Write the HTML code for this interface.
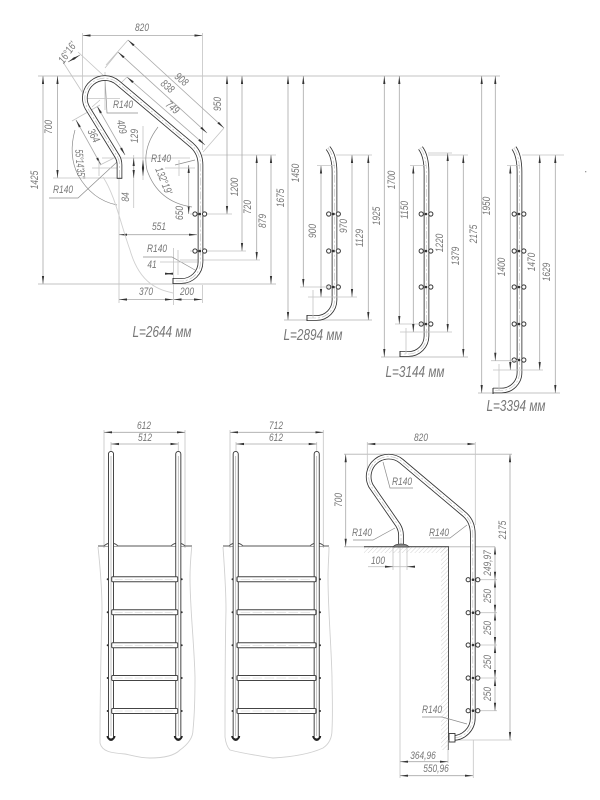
<!DOCTYPE html>
<html><head><meta charset="utf-8">
<style>
html,body{margin:0;padding:0;background:#fff}
svg{display:block}
text{font-family:"Liberation Sans","DejaVu Sans",sans-serif;font-style:italic;font-size:11px;fill:#777;text-anchor:middle;dominant-baseline:central}
text.L{font-size:15.500px;fill:#777}
.e{stroke:#c4c4c4;stroke-width:.8;fill:none}
.h{stroke:#cfcfcf;stroke-width:1.3;fill:none}
.d{stroke:#a8a8a8;stroke-width:.8;fill:none;marker-start:url(#a);marker-end:url(#a)}
.l{stroke:#8c8c8c;stroke-width:.7;fill:none}
.w{stroke:#d0d0d0;stroke-width:.9;fill:none}
.t1{stroke:#333;stroke-width:5.600;fill:none}
.t2{stroke:#fff;stroke-width:3.900;fill:none}
.t3{stroke:#bbb;stroke-width:.6;fill:none;stroke-dasharray:8 2 2 2}
.b{stroke:#333;stroke-width:1;fill:#fff}
</style></head><body>
<svg width="600" height="800" viewBox="0 0 600 800" xmlns="http://www.w3.org/2000/svg">
<defs>
<marker id="a" markerUnits="userSpaceOnUse" markerWidth="9" markerHeight="4" refX="8" refY="2" orient="auto-start-reverse"><path d="M0 .9L8 2L0 3.100z" fill="#333"/></marker>
<pattern id="hp" patternUnits="userSpaceOnUse" width="3" height="3" patternTransform="rotate(45)"><path d="M0 0V3" stroke="#c8c8c8" stroke-width=".8"/></pattern>
<path id="r1" d="M119.500 178L119.500 165Q119.500 160 117 156L87.500 108A20 20 0 0 1 118 83L192 145.400Q200.500 153 200.500 165L200.500 262A19 19 0 0 1 181.500 281L173 281"/>
<path id="r2" d="M328 148Q334.500 156 334.500 172L334.500 300A18 18 0 0 1 316.500 318L307 318"/>
<path id="r3" d="M420.500 148Q426.500 156 426.500 172L426.500 336A18 18 0 0 1 408.500 354L400 354"/>
<path id="r4" d="M514 148Q519.500 156 519.500 172L519.500 372.500A18 18 0 0 1 501.500 390.500L493 390.500"/>
<path id="r5" d="M401 546L401 535Q401 530 398 525L371 486A20 20 0 0 1 401.400 461.200L465 514.800Q472.800 522 472.800 534L472.800 718A20 20 0 0 1 452.800 738L450 738"/>
<g id="bt"><circle class="b" cx="-4.800" cy="0" r="2.100"/><circle class="b" cx="4.800" cy="0" r="2.100"/><circle cx="0" cy="0" r="1.300" fill="#333"/></g>
<g id="stp"><rect x="0" y="-2.500" width="66" height="5" rx="1" fill="#fff" stroke="#444" stroke-width="1"/><path d="M3 0H63" stroke="#ccc" stroke-width=".5" stroke-dasharray="8 2"/></g>
<g id="vr"><path d="M0 0V284" stroke="#333" stroke-width="6" stroke-linecap="round"/><path d="M0 0V284" stroke="#fff" stroke-width="4.200" stroke-linecap="round"/><path d="M0 2V282" stroke="#aaa" stroke-width=".7"/><path d="M-3.500 282a3.500 3.500 0 0 0 7 0" stroke="#222" stroke-width="2" fill="none"/></g>
</defs>

<!-- top line -->
<path class="h" d="M38 76H500M38 284H276M284 320H372M381 357H468M478 393H560M344 454.300H512M344 546.700H495"/>

<!-- rail 1 dims -->
<path class="d" d="M82.500 35.500H202.500"/>
<path class="e" d="M82.500 33V95M202.500 33V150M53 178H119M102 158H190M202 155H276M190 214H232M190 251H246M180 260H260M119 160V303M173.500 248V305M202.500 285V303M143 126V180M133.700 155V208"/>
<path class="d" d="M43 76V284"/><path class="d" d="M57.500 76V178"/>
<path class="d" d="M227 76V214"/><path class="d" d="M242 76V251"/>
<path class="d" d="M256.700 155V260"/><path class="d" d="M271 155V284"/>
<path class="d" d="M288 76V320"/>
<path class="d" d="M188.700 165V214"/>
<path class="d" d="M119 234.700H197"/>
<path class="d" d="M119 299.500H173"/><path class="d" d="M173.500 299.500H202"/>
<path class="d" d="M143 160V176"/><path class="d" d="M133.700 158V178"/>
<path class="d" d="M165 273.700H173"/>
<path class="d" d="M128 40L224 128"/><path class="d" d="M118 52L207 133"/><path class="d" d="M127 77L205 145"/>
<path class="e" d="M128 40L106 65M224 128L203 152M118 52L105 68M127 77L119 85"/>
<path class="e" d="M63 62L84 95M78 52L104 76"/>
<path class="d" d="M68 62L80 55"/>
<path class="d" d="M76 120L101 165"/><path class="d" d="M97 106L125 155"/>
<path class="e" d="M72 121L100 105M100 165L120 155M92 107L100 100"/>
<path class="l" d="M158 127Q142 148 147 170Q158 202 192 207"/>
<path class="l" d="M75 130Q68 155 78 175Q92 200 117 205"/>
<path class="w" d="M103 177C115 195 120 222 130 250C140 285 160 290 173 293"/>
<path class="l" d="M105 78L107 113H138M49 198H78L117 162M175 165L195 160M143 257H172L195 270"/>
<path class="e" d="M82 98.500H120M105 72V110M92 168H120M99 160V176M165 168H195M179 160V176M160 262H200M178 250V275"/>

<!-- rails -->
<use href="#r1" class="t1"/><use href="#r1" class="t2"/><use href="#r1" class="t3"/>
<path d="M116.700 178.300H122.300" stroke="#333" stroke-width="1"/>
<path d="M173 278V284" stroke="#333" stroke-width="1"/>
<use href="#bt" x="199.800" y="214"/><use href="#bt" x="199.800" y="251"/>

<use href="#r2" class="t1"/><use href="#r2" class="t2"/><use href="#r2" class="t3"/>
<path d="M307 315V321" stroke="#333" stroke-width="1"/>
<use href="#bt" x="333.500" y="214"/><use href="#bt" x="333.500" y="251"/><use href="#bt" x="333.500" y="287"/>

<use href="#r3" class="t1"/><use href="#r3" class="t2"/><use href="#r3" class="t3"/>
<path d="M400 351V357" stroke="#333" stroke-width="1"/>
<use href="#bt" x="426" y="214"/><use href="#bt" x="426" y="251"/><use href="#bt" x="426" y="287"/><use href="#bt" x="426" y="324"/>

<use href="#r4" class="t1"/><use href="#r4" class="t2"/><use href="#r4" class="t3"/>
<path d="M493 388V394" stroke="#333" stroke-width="1"/>
<use href="#bt" x="519" y="214"/><use href="#bt" x="519" y="251"/><use href="#bt" x="519" y="287"/><use href="#bt" x="519" y="324"/><use href="#bt" x="519" y="360"/>

<!-- rail 2-4 dims -->
<path class="e" d="M300 287H330M317 165.600H335M308 297H357M336 155H372M313 290V318M308 297H325"/>
<path class="d" d="M303.300 76V287"/><path class="d" d="M321 165.600V297"/><path class="d" d="M352 155V297"/><path class="d" d="M368.300 155V320"/>
<path class="e" d="M395 324H422M410 165.600H426M400 332H452M428 153H452M428 155H468M406 328V354"/>
<path class="d" d="M384.300 76V357"/><path class="d" d="M399.300 76V324"/><path class="d" d="M413.300 165.600V332"/><path class="d" d="M447.700 153V332"/><path class="d" d="M463.300 155V357"/>
<path class="e" d="M491 360.700H518M507 165.600H520M493 370H543M522 155H564M499 364V390"/>
<path class="d" d="M481.700 76V393"/><path class="d" d="M495.300 76V360.700"/><path class="d" d="M510.300 165.600V370"/><path class="d" d="M539.700 155V370"/><path class="d" d="M555.300 155V393"/>
<rect x="585" y="171" width="1.300" height="1.300" fill="#999"/>

<!-- ladders -->
<path class="w" d="M98 547C101 575 102 590 102 610C101 650 100 690 100 743C102 752 112 753 125 754C135 756 140 758 150 758C165 758 175 755 180 750C187 745 193 738 193 730C195 710 195 690 195 677C194 640 190 610 190 577C190 565 191 555 191.700 547"/>
<path class="w" d="M223 547C225 575 226 590 226 610C225 650 225 690 225 737C226 745 228 748 230 750C245 754 255 755 273 758C290 757 310 754 323 748C329 744 332 738 332 730C333 710 332 690 332 677C331 640 328 610 328 577C328 565 329 555 329 547"/>
<path class="e" d="M104 430V548M185 430V548M111 442V454M178.300 442V454M230 430V548M323.300 430V548M236 442V454M316.700 442V454"/>
<path class="d" d="M104 432.300H185"/><path class="d" d="M111 444H178.300"/>
<path class="d" d="M230 432.300H323.300"/><path class="d" d="M236 444H316.700"/>
<path d="M98 546H192M223 546H329" stroke="#555" stroke-width="1" fill="none"/>
<path d="M104 546q3-3 7-3q4 0 7 3M171 546q3-3 7-3q4 0 7 3M229 546q3-3 7-3q4 0 7 3M310 546q3-3 7-3q4 0 7 3" stroke="#555" stroke-width=".9" fill="#fff"/>
<use href="#vr" x="111" y="454"/><use href="#vr" x="178.300" y="454"/>
<use href="#vr" x="235.700" y="454"/><use href="#vr" x="316.700" y="454"/>
<g fill="#333">
<circle cx="107.700" cy="579.300" r="1"/><circle cx="181.700" cy="579.300" r="1"/><circle cx="107.700" cy="612.300" r="1"/><circle cx="181.700" cy="612.300" r="1"/><circle cx="107.700" cy="645.300" r="1"/><circle cx="181.700" cy="645.300" r="1"/><circle cx="107.700" cy="678" r="1"/><circle cx="181.700" cy="678" r="1"/><circle cx="107.700" cy="711" r="1"/><circle cx="181.700" cy="711" r="1"/>
<circle cx="232.500" cy="579.300" r="1"/><circle cx="320" cy="579.300" r="1"/><circle cx="232.500" cy="612.300" r="1"/><circle cx="320" cy="612.300" r="1"/><circle cx="232.500" cy="645.300" r="1"/><circle cx="320" cy="645.300" r="1"/><circle cx="232.500" cy="678" r="1"/><circle cx="320" cy="678" r="1"/><circle cx="232.500" cy="711" r="1"/><circle cx="320" cy="711" r="1"/>
</g>
<use href="#stp" x="111.700" y="579.300"/><use href="#stp" x="111.700" y="612.300"/><use href="#stp" x="111.700" y="645.300"/><use href="#stp" x="111.700" y="678"/><use href="#stp" x="111.700" y="711"/>
<g transform="translate(237 0) scale(1.197 1)"><use href="#stp" x="0" y="579.300"/><use href="#stp" x="0" y="612.300"/><use href="#stp" x="0" y="645.300"/><use href="#stp" x="0" y="678"/><use href="#stp" x="0" y="711"/></g>

<!-- side view -->
<path d="M448.500 547V750" stroke="#555" stroke-width="1"/>
<path d="M441 547H448V750H441z" fill="url(#hp)"/>
<path d="M364 547H448V553H364z" fill="url(#hp)"/>
<path d="M364 546.700H449" stroke="#555" stroke-width="1.100"/>
<path class="d" d="M345.700 454.300V546.700"/>
<path class="d" d="M367.300 444H475.300"/>
<path class="e" d="M367.300 442V480M475.300 442V525M400 546V778M473.300 740V778M448 740V763M393 547V570M407 547V570M473 579.700H497M473 612.700H497M473 645H497M473 678H497M473 710.700H497M457 740H512"/>
<path class="d" d="M510 454.300V740"/>
<path class="d" d="M495 546.700V579.700"/><path class="d" d="M495 579.700V612.700"/><path class="d" d="M495 612.700V645"/><path class="d" d="M495 645V678"/><path class="d" d="M495 678V710.700"/>
<path class="e" d="M368 566.700H415"/>
<path class="d" d="M385 566.700H393" style="marker-start:none"/><path class="d" d="M415 566.700H407" style="marker-start:none"/>
<path class="d" d="M400 761.700H448"/><path class="d" d="M400 775.700H473"/>
<use href="#r5" class="t1"/><use href="#r5" class="t2"/><use href="#r5" class="t3"/>
<path d="M393 547q2-3 8-3q6 0 8 3z" fill="#888" stroke="#444" stroke-width=".7"/>
<rect x="449" y="733.500" width="6" height="8.500" fill="#fff" stroke="#333" stroke-width=".9"/>
<use href="#bt" x="473" y="579.700"/><use href="#bt" x="473" y="612.700"/><use href="#bt" x="473" y="645"/><use href="#bt" x="473" y="678"/><use href="#bt" x="473" y="710.700"/>
<path class="l" d="M383 462L390 488H413M353 540H373L395 528M430 538H450L467 525M422 717H442L467 724"/>

<!-- labels -->
<g>
<text transform="translate(142 28) scale(.76 1)">820</text>
<text transform="translate(181 80) rotate(40) scale(.76 1)">908</text>
<text transform="translate(167 87) rotate(40) scale(.76 1)">838</text>
<text transform="translate(172 108) rotate(40) scale(.76 1)">749</text>
<text transform="translate(218 104) rotate(-90) scale(.76 1)">950</text>
<text transform="translate(68 53) rotate(-55) scale(.76 1)">16°16'</text>
<text transform="translate(123 105) scale(.76 1)">R140</text>
<text transform="translate(121 127) rotate(78) scale(.76 1)">409</text>
<text transform="translate(93 136) rotate(62) scale(.76 1)">364</text>
<text transform="translate(135 136) rotate(-90) scale(.76 1)">129</text>
<text transform="translate(80 164) rotate(85) scale(.62 1)">55°14'35"</text>
<text transform="translate(161 159) scale(.76 1)">R140</text>
<text transform="translate(163 181) rotate(68) scale(.76 1)">132°19'</text>
<text transform="translate(63 190) scale(.76 1)">R140</text>
<text transform="translate(126 197) rotate(-90) scale(.76 1)">84</text>
<text transform="translate(180 213) rotate(-90) scale(.76 1)">650</text>
<text transform="translate(159 227) scale(.76 1)">551</text>
<text transform="translate(157 249) scale(.76 1)">R140</text>
<text transform="translate(152 265) scale(.76 1)">41</text>
<text transform="translate(146 292) scale(.76 1)">370</text>
<text transform="translate(187 292) scale(.76 1)">200</text>
<text transform="translate(49 127) rotate(-90) scale(.76 1)">700</text>
<text transform="translate(35 180) rotate(-90) scale(.76 1)">1425</text>
<text transform="translate(235 187) rotate(-90) scale(.76 1)">1200</text>
<text transform="translate(248 207) rotate(-90) scale(.76 1)">720</text>
<text transform="translate(263 221) rotate(-90) scale(.76 1)">879</text>
<text transform="translate(281 198) rotate(-90) scale(.76 1)">1675</text>
<text transform="translate(296 173) rotate(-90) scale(.76 1)">1450</text>
<text transform="translate(313 231) rotate(-90) scale(.76 1)">900</text>
<text transform="translate(344 226) rotate(-90) scale(.76 1)">970</text>
<text transform="translate(360 238) rotate(-90) scale(.76 1)">1129</text>
<text transform="translate(377 216) rotate(-90) scale(.76 1)">1925</text>
<text transform="translate(392 180) rotate(-90) scale(.76 1)">1700</text>
<text transform="translate(405 210) rotate(-90) scale(.76 1)">1150</text>
<text transform="translate(440 243) rotate(-90) scale(.76 1)">1220</text>
<text transform="translate(456 256) rotate(-90) scale(.76 1)">1379</text>
<text transform="translate(474 234) rotate(-90) scale(.76 1)">2175</text>
<text transform="translate(487 206) rotate(-90) scale(.76 1)">1950</text>
<text transform="translate(502 267) rotate(-90) scale(.76 1)">1400</text>
<text transform="translate(532 262) rotate(-90) scale(.76 1)">1470</text>
<text transform="translate(547 272) rotate(-90) scale(.76 1)">1629</text>
<text transform="translate(144 426) scale(.76 1)">612</text>
<text transform="translate(145 438) scale(.76 1)">512</text>
<text transform="translate(276 426) scale(.76 1)">712</text>
<text transform="translate(276 438) scale(.76 1)">612</text>
<text transform="translate(421 438) scale(.76 1)">820</text>
<text transform="translate(339 500) rotate(-90) scale(.76 1)">700</text>
<text transform="translate(402 482) scale(.76 1)">R140</text>
<text transform="translate(362 533) scale(.76 1)">R140</text>
<text transform="translate(439 533) scale(.76 1)">R140</text>
<text transform="translate(378 561) scale(.76 1)">100</text>
<text transform="translate(432 710) scale(.76 1)">R140</text>
<text transform="translate(423 756) scale(.76 1)">364,96</text>
<text transform="translate(436 769) scale(.76 1)">550,96</text>
<text transform="translate(503 530) rotate(-90) scale(.76 1)">2175</text>
<text transform="translate(488 563) rotate(-90) scale(.76 1)">249,97</text>
<text transform="translate(488 596) rotate(-90) scale(.76 1)">250</text>
<text transform="translate(488 628) rotate(-90) scale(.76 1)">250</text>
<text transform="translate(488 662) rotate(-90) scale(.76 1)">250</text>
<text transform="translate(488 694) rotate(-90) scale(.76 1)">250</text>
<text class="L" transform="translate(162 332) scale(.76 1)">L=2644 мм</text>
<text class="L" transform="translate(313 335) scale(.76 1)">L=2894 мм</text>
<text class="L" transform="translate(415 372) scale(.76 1)">L=3144 мм</text>
<text class="L" transform="translate(516 406) scale(.76 1)">L=3394 мм</text>
</g>
</svg>
</body></html>
